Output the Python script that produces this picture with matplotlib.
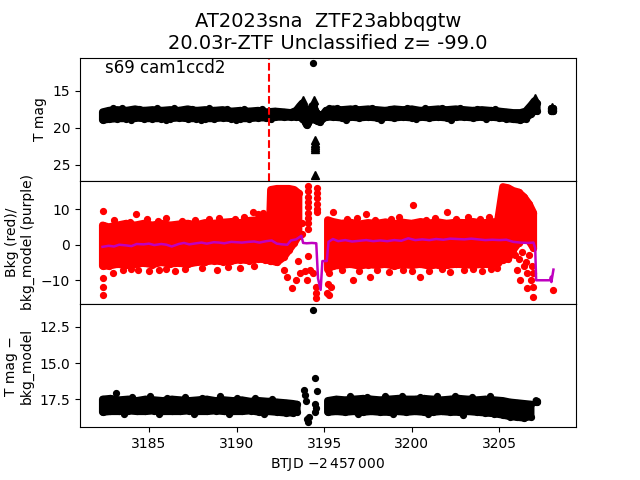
import numpy as np
import matplotlib
matplotlib.use("Agg")
import matplotlib.pyplot as plt

TITLE = "AT2023sna  ZTF23abbqgtw\n20.03r-ZTF Unclassified z= -99.0"
LABEL = "s69 cam1ccd2"
DISC_BTJD = 3191.85
MS = 4.2          # dot size
BAND_LW = 5.2     # stroke round the dense bands ~ one dot diameter

# --- T mag band (envelope), NaN = gap
tmag_t = [3182.35, 3182.7, 3183.2, 3183.7, 3184.2, 3184.7, 3185.2, 3185.7, 3186.2, 3186.7,
          3187.2, 3187.7, 3188.2, 3188.7, 3189.2, 3189.7, 3190.2, 3190.7, 3191.2, 3191.7,
          3192.2, 3192.7, 3193.1, 3193.4, 3193.6, 3193.75, 3193.9, 3194.0, 3194.1, 3194.2,
          3194.3, 3194.4, 3194.5, 3194.6, 3194.75, 3194.9, 3195.1, 3195.5, 3196.0, 3196.5,
          3197.0, 3197.5, 3198.0, 3198.5, 3199.0, 3199.5, 3200.0, 3200.5, 3201.0, 3201.5,
          3202.0, 3202.5, 3203.0, 3203.5, 3204.0, 3204.5, 3205.0, 3205.4, 3205.8, 3206.2,
          3206.5, 3206.8, 3207.0, 3207.15, np.nan, 3207.95, 3208.09]
tmag_hi = [17.85, 17.65, 17.55, 17.65, 17.45, 17.65, 17.55, 17.65, 17.55, 17.65,
           17.45, 17.65, 17.55, 17.65, 17.55, 17.75, 17.65, 17.75, 17.65, 17.85,
           17.75, 17.85, 17.95, 17.65, 17.05, 16.65, 17.25, 18.25, 18.65, 18.05,
           17.05, 16.95, 17.65, 18.05, 18.25, 18.25, 17.65, 17.45, 17.55, 17.45,
           17.55, 17.45, 17.55, 17.65, 17.45, 17.55, 17.45, 17.65, 17.55, 17.45,
           17.55, 17.45, 17.55, 17.65, 17.55, 17.65, 17.75, 17.85, 17.95, 17.95,
           17.75, 16.95, 16.35, 16.65, np.nan, 17.3, 17.3]
tmag_lo = [18.95, 18.85, 18.75, 18.75, 18.65, 18.75, 18.75, 18.75, 18.75, 18.65,
           18.75, 18.75, 18.75, 18.75, 18.65, 18.75, 18.75, 18.75, 18.65, 18.65,
           18.55, 18.55, 18.55, 18.55, 18.55, 18.75, 19.15, 19.65, 19.35, 18.95,
           18.55, 18.75, 18.95, 19.05, 19.25, 18.85, 18.55, 18.55, 18.65, 18.55,
           18.65, 18.55, 18.65, 18.55, 18.65, 18.55, 18.65, 18.55, 18.65, 18.55,
           18.65, 18.55, 18.55, 18.65, 18.55, 18.55, 18.65, 18.75, 18.85, 18.95,
           18.75, 18.15, 17.75, 17.75, np.nan, 17.75, 17.75]
# single dots sticking out of the band
tmag_out_t = [3194.37, 3182.95, 3183.45, 3184.45, 3185.45, 3186.45, 3187.45, 3188.45, 3189.45, 3190.45,
              3191.45, 3195.3, 3195.75, 3196.75, 3197.75, 3198.75, 3199.75, 3200.75, 3201.75, 3202.75,
              3203.75, 3204.75, 3183.95, 3185.95, 3187.95, 3189.95, 3191.95, 3196.25, 3198.25, 3200.25,
              3202.25, 3204.25]
tmag_out_m = [11.26, 17.35, 17.3, 17.4, 17.3, 17.35, 17.4, 17.3, 17.45, 17.4,
              17.5, 17.3, 17.25, 17.35, 17.3, 17.4, 17.3, 17.25, 17.35, 17.3,
              17.4, 17.45, 19.0, 18.95, 19.0, 18.95, 18.85, 18.9, 18.95, 18.85,
              18.9, 18.85]
# upper limits (triangles)
lim_t = [3193.8, 3194.42, 3207.05, 3208.02, 3194.49, 3194.49, 3194.49, 3194.49, 3194.49, 3194.47]
lim_m = [16.3, 16.3, 16.0, 17.2, 21.7, 22.0, 22.3, 22.6, 22.8, 26.4]

# --- background (red) band and bkg model (purple)
bkg_t = [3182.35, 3182.7, 3183.2, 3183.7, 3184.2, 3184.7, 3185.2, 3185.7, 3186.2, 3186.7,
         3187.2, 3187.7, 3188.2, 3188.7, 3189.2, 3189.7, 3190.2, 3190.7, 3191.2, 3191.6,
         3191.9, 3191.95, 3192.3, 3192.7, 3193.0, 3193.3, 3193.55, np.nan,
         3195.2, 3195.5, 3196.0, 3196.5, 3197.0, 3197.5, 3198.0, 3198.5, 3199.0, 3199.5,
         3200.0, 3200.5, 3201.0, 3201.5, 3202.0, 3202.5, 3203.0, 3203.5, 3204.0, 3204.5,
         3204.9, 3205.2, 3205.5, 3205.8, 3206.1, 3206.4, 3206.7, 3206.95]
bkg_hi = [5.5, 5.0, 5.5, 6.0, 5.5, 6.0, 5.5, 6.0, 5.5, 5.8,
          6.0, 5.6, 6.2, 6.0, 6.3, 6.5, 6.2, 6.8, 7.0, 7.5,
          7.8, 15.5, 15.8, 15.8, 15.8, 15.5, 14.5, np.nan,
          7.0, 6.5, 6.0, 6.3, 5.8, 6.2, 6.0, 6.4, 5.9, 6.3,
          6.0, 6.5, 6.1, 6.4, 6.0, 6.3, 6.2, 6.5, 6.1, 6.4,
          6.5, 16.3, 16.0, 15.2, 14.8, 13.5, 11.5, 9.0]
bkg_lo = [-6.0, -6.0, -5.5, -5.8, -5.5, -5.2, -5.6, -5.0, -5.4, -5.2,
          -5.5, -5.0, -4.8, -4.5, -4.8, -4.6, -4.2, -4.5, -4.0, -4.2,
          -4.5, -4.5, -5.0, -3.5, -1.5, 0.5, 2.5, np.nan,
          -7.0, -6.0, -5.8, -5.5, -6.0, -5.6, -5.8, -5.5, -6.0, -5.6,
          -5.8, -5.5, -6.0, -5.6, -5.8, -5.5, -5.6, -5.8, -5.5, -5.6,
          -5.2, -4.2, -4.0, -1.5, 0.5, 1.5, 1.0, -1.0]
bkg_out_t = [3182.35, 3182.38, 3182.4, 3182.4, 3182.95, 3184.28, 3184.38, 3185.6, 3187.03, 3190.94,
             3191.23, 3192.7, 3192.9, 3193.14, 3193.42, 3193.51, 3193.6, 3193.75, 3193.75, 3193.9,
             3194.0, 3194.05, 3194.07, 3194.05, 3194.07, 3194.05, 3194.07, 3194.05, 3194.07, 3194.1,
             3194.1, 3194.2, 3194.37, 3194.53, 3194.53, 3194.53, 3194.6, 3194.6, 3194.6, 3194.6,
             3194.6, 3194.6, 3195.15, 3195.2, 3195.25, 3195.3, 3195.4, 3195.5, 3196.66, 3197.4,
             3197.6, 3200.09, 3200.47, 3202.0, 3203.5, 3204.85, 3206.0, 3206.2, 3206.4, 3206.57,
             3206.8, 3206.9, 3206.95, 3206.95, 3208.09,
             3183.0, 3183.9, 3184.9, 3185.5, 3186.0, 3186.9, 3187.6, 3188.4, 3189.0, 3189.9,
             3190.4, 3191.5, 3196.3, 3196.9, 3197.9, 3198.8, 3199.3, 3200.8, 3201.3, 3202.5,
             3203.2, 3203.9, 3204.4, 3205.0,
             3183.5, 3184.0, 3185.0, 3186.0, 3186.5, 3188.0, 3188.9, 3189.5, 3190.2, 3191.0,
             3196.0, 3197.0, 3198.0, 3198.7, 3199.5, 3200.0, 3201.0, 3201.7, 3202.2, 3203.0,
             3204.0, 3204.5, 3205.9, 3206.1, 3206.3, 3206.5, 3206.7, 3206.85, 3206.6]
bkg_out_v = [9.5, -9.4, -11.8, -14.1, -7.9, 8.7, -7.0, -7.2, -6.8, 9.2,
             8.7, -7.0, -9.0, -12.2, -9.9, -4.6, -8.0, 6.0, 3.0, -7.5,
             -9.9, 16.4, 15.0, 13.5, 12.0, 10.5, 9.0, 7.5, 6.0, 4.4,
             -3.2, -7.0, -8.0, -11.8, -13.5, -15.1, 15.9, 14.5, 13.0, 11.5,
             10.0, 9.3, -13.5, -11.0, -8.0, -14.2, -12.0, 9.2, -9.9, 8.7,
             -9.0, 11.1, -9.0, 9.2, -6.8, -6.5, -7.0, -9.9, -6.0, -12.2,
             -10.0, -8.0, -14.6, -12.0, -12.7,
             6.9, 6.5, 7.2, 6.7, 7.4, 6.8, 7.0, 7.3, 7.4, 7.2,
             7.8, 8.8, 7.2, 7.4, 6.9, 7.3, 7.7, 7.0, 7.6, 7.2,
             7.8, 7.1, 7.9, 7.4,
             -7.2, -6.8, -7.5, -6.9, -7.5, -6.5, -7.0, -6.2, -6.5, -6.0,
             -7.2, -7.5, -7.0, -7.8, -7.0, -7.3, -7.5, -6.9, -7.6, -7.0,
             -7.4, -6.8, -3.0, -4.0, -2.0, -5.0, -3.0, -6.0, -8.0]

model_t = [3182.35, 3182.7, 3183.0, 3183.3, 3183.7, 3184.0, 3184.3, 3184.7, 3185.0, 3185.3,
           3185.7, 3186.0, 3186.3, 3186.7, 3187.0, 3187.3, 3187.7, 3188.0, 3188.3, 3188.7,
           3189.0, 3189.3, 3189.7, 3190.0, 3190.3, 3190.7, 3191.0, 3191.3, 3191.7, 3192.0,
           3192.3, 3192.6, 3192.9, 3193.1, 3193.4, 3193.7, 3193.8, 3194.0, 3194.3, 3194.55,
           3194.65, 3194.8, 3194.9, 3195.15, 3195.25, 3195.5, 3195.8, 3196.2, 3196.6, 3197.0,
           3197.4, 3197.8, 3198.2, 3198.6, 3199.0, 3199.4, 3199.8, 3200.2, 3200.6, 3201.0,
           3201.4, 3201.8, 3202.2, 3202.6, 3203.0, 3203.4, 3203.8, 3204.2, 3204.6, 3205.0,
           3205.4, 3205.8, 3206.2, 3206.6, 3206.95, 3207.05, 3207.1, 3207.9, 3207.95, 3207.97,
           3208.09]
model_v = [-0.6, -0.3, -0.5, 0.0, -0.2, -0.4, 0.2, 0.1, 0.3, -0.1,
           0.2, 0.0, -0.5, 0.2, 0.5, 0.1, 0.4, 0.6, 0.3, 0.7,
           0.6, 0.4, 0.8, 0.7, 0.6, 0.8, 0.9, 0.6, 1.0, 1.2,
           0.3, 0.1, 0.0, 1.2, 1.5, 2.5, 0.5, 0.4, 0.5, 0.4,
           -9.5, -12.7, -4.6, -4.6, 0.8, 1.6, 1.0, 1.3, 0.9, 1.1,
           1.3, 1.0, 1.2, 1.0, 1.3, 1.1, 1.8, 1.3, 1.5, 1.3,
           1.6, 1.4, 1.7, 1.6, 1.5, 1.7, 1.5, 1.3, 1.4, 1.3,
           1.4, 0.8, 0.6, 0.5, 0.6, -1.0, -10.0, -10.0, -9.0, -10.5,
           -7.0]

# --- T mag - bkg_model band
diff_t = [3182.35, 3182.8, 3183.3, 3183.8, 3184.3, 3184.8, 3185.3, 3185.8, 3186.3, 3186.8,
          3187.3, 3187.8, 3188.3, 3188.8, 3189.3, 3189.8, 3190.3, 3190.8, 3191.3, 3191.8,
          3192.3, 3192.8, 3193.2, 3193.45, np.nan,
          3195.2, 3195.7, 3196.2, 3196.7, 3197.2, 3197.7, 3198.2, 3198.7, 3199.2, 3199.7,
          3200.2, 3200.7, 3201.2, 3201.7, 3202.2, 3202.7, 3203.2, 3203.7, 3204.2, 3204.7,
          3205.2, 3205.6, 3206.0, 3206.4, 3206.8, np.nan, 3207.1, 3207.15]
diff_hi = [17.5, 17.45, 17.55, 17.5, 17.6, 17.5, 17.55, 17.6, 17.5, 17.55,
           17.6, 17.55, 17.5, 17.6, 17.55, 17.6, 17.55, 17.65, 17.6, 17.65,
           17.7, 17.75, 17.8, 17.85, np.nan,
           17.6, 17.5, 17.55, 17.5, 17.45, 17.5, 17.55, 17.5, 17.45, 17.5,
           17.5, 17.45, 17.5, 17.55, 17.5, 17.45, 17.5, 17.55, 17.5, 17.55,
           17.6, 17.7, 17.75, 17.8, 17.85, np.nan, 17.6, 17.65]
diff_lo = [18.4, 18.35, 18.35, 18.3, 18.35, 18.35, 18.3, 18.35, 18.35, 18.35,
           18.3, 18.35, 18.35, 18.3, 18.35, 18.35, 18.35, 18.3, 18.4, 18.35,
           18.4, 18.45, 18.45, 18.4, np.nan,
           18.4, 18.35, 18.4, 18.35, 18.4, 18.35, 18.4, 18.4, 18.35, 18.4,
           18.35, 18.4, 18.4, 18.35, 18.4, 18.4, 18.35, 18.4, 18.45, 18.5,
           18.6, 18.7, 18.75, 18.8, 18.7, np.nan, 17.7, 17.7]
diff_out_t = [3183.1, 3193.85, 3193.9, 3193.95, 3194.0, 3194.1, 3194.15, 3194.37, 3194.5, 3194.6,
              3194.5, 3194.55, 3194.5,
              3184.05, 3185.05, 3186.05, 3187.05, 3188.05, 3189.05, 3190.05, 3191.05, 3192.05,
              3196.45, 3197.45, 3198.45, 3199.45, 3200.45, 3201.45, 3202.45, 3203.45, 3204.45,
              3183.55, 3185.55, 3187.55, 3189.55, 3191.55, 3196.95, 3198.95, 3200.95, 3202.95]
diff_out_m = [17.1, 16.85, 17.2, 17.6, 18.85, 19.05, 18.7, 11.3, 16.06, 16.9,
              17.8, 18.1, 18.4,
              17.35, 17.3, 17.4, 17.35, 17.4, 17.3, 17.4, 17.45, 17.5,
              17.3, 17.35, 17.25, 17.3, 17.35, 17.3, 17.25, 17.35, 17.3,
              18.55, 18.5, 18.55, 18.5, 18.55, 18.55, 18.5, 18.55, 18.6]


def dense_band(ax, t, lo, hi, color):
    ax.fill_between(t, lo, hi, facecolor=color, edgecolor=color, lw=BAND_LW)
    ax.plot(t, lo, "o", color=color, ms=MS)
    ax.plot(t, hi, "o", color=color, ms=MS)


fig, axes = plt.subplots(3, 1, sharex=True, figsize=(6.4, 4.8))
plt.subplots_adjust(hspace=0)

ax = axes[0]
dense_band(ax, tmag_t, tmag_lo, tmag_hi, "k")
ax.plot(tmag_out_t, tmag_out_m, "ko", ms=MS)
ax.plot(lim_t, lim_m, "k^", ms=5.5)
ax.axvline(DISC_BTJD, color="r", ls="--", lw=1.5)
ax.invert_yaxis()
ax.set_ylabel("T mag")
ax.set_title(TITLE, fontsize=14)
ax.text(0.05, 0.99, LABEL, transform=ax.transAxes, fontsize=12, va="top")

ax = axes[1]
dense_band(ax, bkg_t, bkg_lo, bkg_hi, "r")
ax.plot(bkg_out_t, bkg_out_v, "ro", ms=MS)
ax.plot(model_t, model_v, color="m", lw=1.8)
ax.set_ylabel("Bkg (red)/\nbkg_model (purple)")

ax = axes[2]
dense_band(ax, diff_t, diff_lo, diff_hi, "k")
ax.plot(diff_out_t, diff_out_m, "ko", ms=MS)
ax.invert_yaxis()
ax.set_ylabel("T mag \u2212\nbkg_model")
ax.set_xlabel(r"BTJD $-2\,457\,000$")

plt.savefig("out.png", dpi=100)
